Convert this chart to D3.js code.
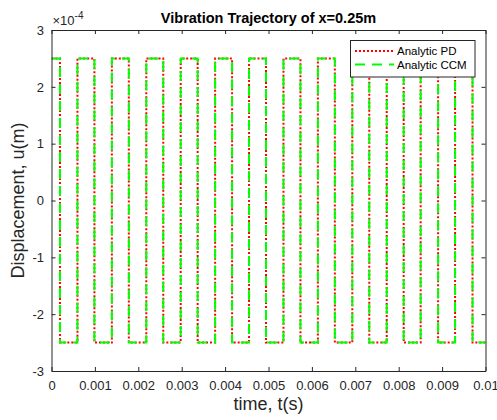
<!doctype html>
<html>
<head>
<meta charset="utf-8">
<style>
  body { margin: 0; background: #fff; }
  svg { font-family: "Liberation Sans", Arial, sans-serif; }
</style>
</head>
<body>
<svg id="chart" width="497" height="420"></svg>
<script src="https://d3js.org/d3.v7.min.js"></script>
<script>
// ---- data ----
// switching instants (s) of the square wave, starting high at t = 0
var pdSwitchTimes = [0.000195, 0.000598, 0.000989, 0.001391, 0.001782, 0.002184,
  0.002575, 0.002977, 0.003368, 0.003770, 0.004161, 0.004552, 0.004943, 0.005345,
  0.005736, 0.006138, 0.006529, 0.006931, 0.007322, 0.007724, 0.008115, 0.008506,
  0.008908, 0.009299, 0.009701];
var ccmSwitchTimes = [0.000195, 0.000598, 0.000989, 0.001391, 0.001782, 0.002184,
  0.002575, 0.002977, 0.003368, 0.003770, 0.004161, 0.004552, 0.004943, 0.005345,
  0.005736, 0.006138, 0.006529, 0.006931, 0.007322, 0.007724, 0.008115, 0.008506,
  0.008908, 0.009299, 0.009701];
var levels = [2.5e-4, -2.5e-4];   // high, low displacement (m)

var xTicks = [0, 0.001, 0.002, 0.003, 0.004, 0.005, 0.006, 0.007, 0.008, 0.009, 0.01];
var xTickLabels = ["0", "0.001", "0.002", "0.003", "0.004", "0.005", "0.006", "0.007", "0.008", "0.009", "0.01"];
var yTicks = [-3e-4, -2e-4, -1e-4, 0, 1e-4, 2e-4, 3e-4];
var yTickLabels = ["-3", "-2", "-1", "0", "1", "2", "3"];
var seriesNames = ["Analytic PD", "Analytic CCM"];

// ---- layout ----
var plotL = 51.5, plotR = 485.5, plotT = 30, plotB = 371;
var axisColor = "#262626";

var svg = d3.select("#chart");

var x = d3.scaleLinear().domain([0, 0.01]).range([plotL, plotR]);
var y = d3.scaleLinear().domain([-3e-4, 3e-4]).range([plotB, plotT]);

// build step points from switch times
function stepPoints(times) {
  var pts = [], k = 0;
  pts.push([0, levels[k]]);
  times.forEach(function(t) {
    pts.push([t, levels[k]]);
    k = 1 - k;
    pts.push([t, levels[k]]);
  });
  pts.push([0.01, levels[k]]);
  return pts;
}

svg.append("defs").append("clipPath").attr("id", "plotclip")
  .append("rect")
  .attr("x", plotL).attr("y", plotT)
  .attr("width", plotR - plotL).attr("height", plotB - plotT);

var line = d3.line()
  .x(function(d) { return x(d[0]); })
  .y(function(d) { return y(d[1]); });

var plot = svg.append("g").attr("clip-path", "url(#plotclip)");

plot.append("path")
  .datum(stepPoints(pdSwitchTimes))
  .attr("d", line)
  .attr("fill", "none")
  .attr("stroke", "#ff0000")
  .attr("stroke-width", 2)
  .attr("stroke-dasharray", "2,2");

plot.append("path")
  .datum(stepPoints(ccmSwitchTimes))
  .attr("d", line)
  .attr("fill", "none")
  .attr("stroke", "#00ff00")
  .attr("stroke-width", 2)
  .attr("stroke-dasharray", "10,7");

// ---- axes ----
function styleAxis(g) {
  g.attr("font-family", null).attr("font-size", null);
  g.selectAll("path, line").attr("stroke", axisColor);
  g.selectAll("text").attr("fill", axisColor).style("font-size", "13px");
}

svg.append("g")
  .attr("transform", "translate(0," + plotB + ")")
  .call(d3.axisBottom(x).tickValues(xTicks)
    .tickFormat(function(d, i) { return xTickLabels[i]; })
    .tickSizeInner(-4).tickSizeOuter(0).tickPadding(10))
  .call(styleAxis);

svg.append("g")
  .attr("transform", "translate(0," + plotT + ")")
  .call(d3.axisTop(x).tickValues(xTicks).tickFormat("")
    .tickSizeInner(-4).tickSizeOuter(0))
  .call(styleAxis);

svg.append("g")
  .attr("transform", "translate(" + plotL + ",0)")
  .call(d3.axisLeft(y).tickValues(yTicks)
    .tickFormat(function(d, i) { return yTickLabels[i]; })
    .tickSizeInner(-4).tickSizeOuter(0).tickPadding(7.5))
  .call(styleAxis);

svg.append("g")
  .attr("transform", "translate(" + plotR + ",0)")
  .call(d3.axisRight(y).tickValues(yTicks).tickFormat("")
    .tickSizeInner(-4).tickSizeOuter(0))
  .call(styleAxis);

// exponent label
var expo = svg.append("text")
  .attr("x", plotL + 1).attr("y", 25)
  .attr("fill", axisColor)
  .style("font-size", "13px");
expo.append("tspan").text("\u00d710");
expo.append("tspan").attr("dy", -6).style("font-size", "10px").text("-4");

// title and labels
svg.append("text")
  .attr("x", (plotL + plotR) / 2).attr("y", 23)
  .attr("text-anchor", "middle")
  .style("font-size", "14.5px").style("font-weight", "bold")
  .attr("fill", "#000")
  .text("Vibration Trajectory of x=0.25m");

svg.append("text")
  .attr("x", (plotL + plotR) / 2).attr("y", 410)
  .attr("text-anchor", "middle")
  .style("font-size", "18px")
  .attr("fill", axisColor)
  .text("time, t(s)");

svg.append("text")
  .attr("transform", "translate(24," + ((plotT + plotB) / 2) + ") rotate(-90)")
  .attr("text-anchor", "middle")
  .style("font-size", "18px")
  .attr("fill", axisColor)
  .text("Displacement, u(m)");

// ---- legend ----
var lg = svg.append("g");
lg.append("rect")
  .attr("x", 350.5).attr("y", 40.5)
  .attr("width", 124.5).attr("height", 36.5)
  .attr("fill", "#fff").attr("stroke", axisColor).attr("stroke-width", 1);

var legendStyles = [
  { color: "#ff0000", dash: "2,2" },
  { color: "#00ff00", dash: "10,7" }
];
seriesNames.forEach(function(name, i) {
  var ly = 51 + i * 13.5;
  lg.append("line")
    .attr("x1", 355).attr("x2", 394)
    .attr("y1", ly).attr("y2", ly)
    .attr("stroke", legendStyles[i].color)
    .attr("stroke-width", 2)
    .attr("stroke-dasharray", legendStyles[i].dash);
  lg.append("text")
    .attr("x", 397).attr("y", ly + 4)
    .style("font-size", "11.5px")
    .attr("fill", "#000")
    .text(name);
});
</script>
</body>
</html>
